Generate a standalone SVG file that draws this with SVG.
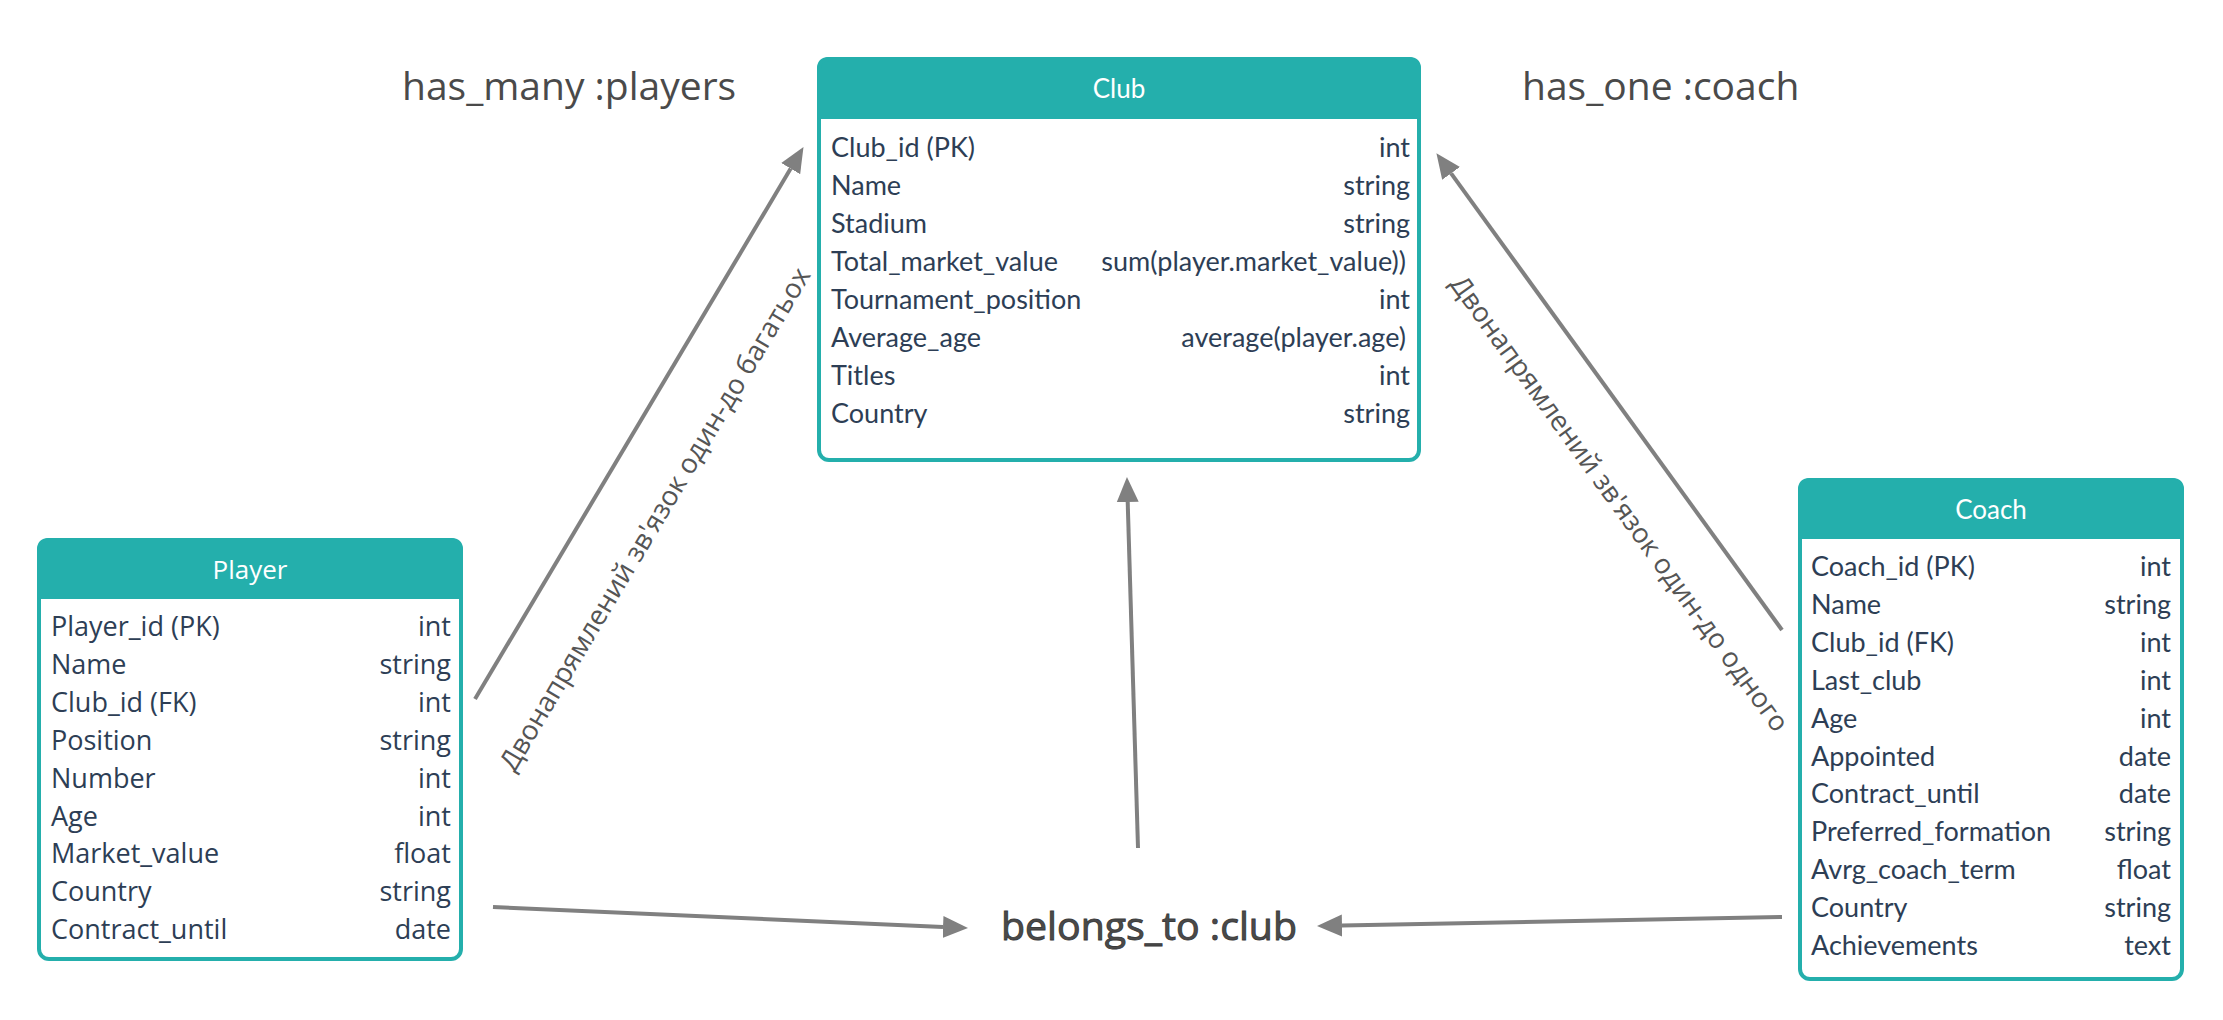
<svg xmlns="http://www.w3.org/2000/svg" width="2223" height="1020" viewBox="0 0 2223 1020">
  <style>
    .box { fill: #ffffff; stroke: #24afac; stroke-width: 4; }
    .hdr { fill: #24afac; stroke: #24afac; stroke-width: 4; stroke-linejoin: round; }
    .title { fill: #ffffff; font-size: 26px; text-anchor: middle; }
    .lato { font-family: Lato, "Liberation Sans", sans-serif; }
    .open { font-family: "Open Sans", "Noto Sans", sans-serif; }
    .row { fill: #2d3e55; font-size: 27px; }
    .r { text-anchor: end; }
    .conn { stroke: #808080; stroke-width: 4; fill: none; }
    .rel { font-family: "Open Sans", "Noto Sans", sans-serif; font-size: 39px; fill: #4a4a4a; }
    .lbl { font-family: "Open Sans", "Noto Sans", sans-serif; font-size: 27.5px; fill: #555555; text-anchor: middle; }
  </style>
  <defs>
    <marker id="arrow" markerUnits="userSpaceOnUse" markerWidth="26" markerHeight="24" refX="0" refY="12" orient="auto">
      <path d="M0,1 L25,12 L0,23 Z" fill="#808080"/>
    </marker>
  </defs>
  <rect width="2223" height="1020" fill="#ffffff"/>

  <g id="connectors">
    <line class="conn" x1="475" y1="699" x2="790.7" y2="168.6" marker-end="url(#arrow)"/>
    <line class="conn" x1="1782" y1="630" x2="1451.1" y2="173.4" marker-end="url(#arrow)"/>
    <line class="conn" x1="1138" y1="848" x2="1127.7" y2="502" marker-end="url(#arrow)"/>
    <line class="conn" x1="493" y1="907" x2="943" y2="927" marker-end="url(#arrow)"/>
    <line class="conn" x1="1782" y1="917" x2="1342" y2="925.5" marker-end="url(#arrow)"/>
    <text class="lbl" transform="translate(663,524) rotate(-59.2)">Двонапрямлений зв'язок один-до багатьох</text>
    <text class="lbl" transform="translate(1612,509) rotate(54.1)">Двонапрямлений зв'язок один-до одного</text>
  </g>

  <g id="label-has-many">
    <text class="rel" x="402" y="100">has_many :players</text>
  </g>
  <g id="label-has-one">
    <text class="rel" x="1522" y="100">has_one :coach</text>
  </g>
  <g id="label-belongs-to">
    <text class="rel" x="1001" y="940" font-size="42" textLength="296" lengthAdjust="spacingAndGlyphs" fill="#3a3a3a" stroke="#3a3a3a" stroke-width="0.9">belongs_to :club</text>
  </g>

  <g id="club">
    <rect class="box" x="819" y="59" width="600" height="401" rx="10"/>
    <path class="hdr" d="M819,117 V69 Q819,59 829,59 H1409 Q1419,59 1419,69 V117 Z"/>
    <text class="title lato" x="1119" y="98">Club</text>
    <g class="row lato">
      <text x="831" y="157">Club_id (PK)</text><text class="r" x="1410" y="157">int</text>
      <text x="831" y="195">Name</text><text class="r" x="1410" y="195">string</text>
      <text x="831" y="233">Stadium</text><text class="r" x="1410" y="233">string</text>
      <text x="831" y="271">Total_market_value</text><text class="r" x="1406" y="271">sum(player.market_value))</text>
      <text x="831" y="309">Tournament_position</text><text class="r" x="1410" y="309">int</text>
      <text x="831" y="347">Average_age</text><text class="r" x="1406" y="347">average(player.age)</text>
      <text x="831" y="385">Titles</text><text class="r" x="1410" y="385">int</text>
      <text x="831" y="423">Country</text><text class="r" x="1410" y="423">string</text>
    </g>
  </g>

  <g id="player">
    <rect class="box" x="39" y="540" width="422" height="419" rx="10"/>
    <path class="hdr" d="M39,597 V550 Q39,540 49,540 H451 Q461,540 461,550 V597 Z"/>
    <text class="title open" x="250" y="579" font-size="25">Player</text>
    <g class="row open">
      <text x="51" y="636">Player_id (PK)</text><text class="r" x="451" y="636">int</text>
      <text x="51" y="674">Name</text><text class="r" x="451" y="674">string</text>
      <text x="51" y="712">Club_id (FK)</text><text class="r" x="451" y="712">int</text>
      <text x="51" y="750">Position</text><text class="r" x="451" y="750">string</text>
      <text x="51" y="788">Number</text><text class="r" x="451" y="788">int</text>
      <text x="51" y="826">Age</text><text class="r" x="451" y="826">int</text>
      <text x="51" y="863">Market_value</text><text class="r" x="451" y="863">float</text>
      <text x="51" y="901">Country</text><text class="r" x="451" y="901">string</text>
      <text x="51" y="939">Contract_until</text><text class="r" x="451" y="939">date</text>
    </g>
  </g>

  <g id="coach">
    <rect class="box" x="1800" y="480" width="382" height="499" rx="10"/>
    <path class="hdr" d="M1800,537 V490 Q1800,480 1810,480 H2172 Q2182,480 2182,490 V537 Z"/>
    <text class="title lato" x="1991" y="519">Coach</text>
    <g class="row lato">
      <text x="1811" y="576">Coach_id (PK)</text><text class="r" x="2171" y="576">int</text>
      <text x="1811" y="614">Name</text><text class="r" x="2171" y="614">string</text>
      <text x="1811" y="652">Club_id (FK)</text><text class="r" x="2171" y="652">int</text>
      <text x="1811" y="690">Last_club</text><text class="r" x="2171" y="690">int</text>
      <text x="1811" y="728">Age</text><text class="r" x="2171" y="728">int</text>
      <text x="1811" y="766">Appointed</text><text class="r" x="2171" y="766">date</text>
      <text x="1811" y="803">Contract_until</text><text class="r" x="2171" y="803">date</text>
      <text x="1811" y="841">Preferred_formation</text><text class="r" x="2171" y="841">string</text>
      <text x="1811" y="879">Avrg_coach_term</text><text class="r" x="2171" y="879">float</text>
      <text x="1811" y="917">Country</text><text class="r" x="2171" y="917">string</text>
      <text x="1811" y="955">Achievements</text><text class="r" x="2171" y="955">text</text>
    </g>
  </g>
</svg>
